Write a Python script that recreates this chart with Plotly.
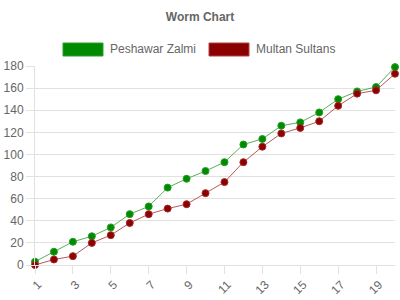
import plotly.graph_objects as go

overs = list(range(1, 21))
tick_labels = [str(v) for v in range(1, 21, 2)]
peshawar = [3, 12, 21, 26, 34, 46, 53, 70, 78, 85, 93, 109, 114, 126, 129, 138, 150, 157, 161, 179]
multan = [0, 5, 8, 20, 27, 38, 46, 51, 55, 65, 75, 93, 107, 119, 124, 130, 144, 155, 158, 173]
series_names = ["Peshawar Zalmi", "Multan Sultans"]

FONT = "Arial, Liberation Sans, Helvetica, sans-serif"
TXT = "#666666"
GRID = "#e1e1e1"
W, H = 400, 300

fig = go.Figure()
fig.add_trace(go.Scatter(
    x=overs, y=peshawar, mode="lines+markers", name=series_names[0],
    line=dict(color="rgba(60,160,60,0.85)", width=1),
    marker=dict(color="#008a00", size=7, line=dict(color="#22a022", width=1)),
    cliponaxis=False, showlegend=False))
fig.add_trace(go.Scatter(
    x=overs, y=multan, mode="lines+markers", name=series_names[1],
    line=dict(color="rgba(170,60,60,0.85)", width=1),
    marker=dict(color="#8b0000", size=7, line=dict(color="#a52a2a", width=1)),
    cliponaxis=False, showlegend=False))

plot_l, plot_r, plot_t, plot_b = 35, 395, 66, 265
def cx(x):
    return (x - plot_l) / (plot_r - plot_l)
def cy(y):
    return (plot_b - y) / (plot_b - plot_t)

legend = [(63, "#008a00", "#2aa02a", series_names[0]), (209, "#8b0000", "#b04040", series_names[1])]
shapes = []
annos = []
for x0, fill, border, label in legend:
    shapes.append(dict(type="rect", xref="paper", yref="paper",
                       x0=cx(x0), x1=cx(x0 + 40), y0=cy(56), y1=cy(43),
                       fillcolor=fill, line=dict(color=border, width=1)))
    annos.append(dict(xref="paper", yref="paper", x=cx(x0 + 45), y=cy(49.5),
                      text=label, showarrow=False, xanchor="left", yanchor="middle",
                      font=dict(family=FONT, size=12, color=TXT)))

fig.update_layout(
    width=W, height=H,
    margin=dict(l=plot_l, r=W - plot_r, t=plot_t, b=H - plot_b, autoexpand=False),
    paper_bgcolor="white", plot_bgcolor="white",
    title=dict(text="<b>Worm Chart</b>", x=0.5, xanchor="center", y=1 - 17 / H, yanchor="middle",
               xref="container", yref="container",
               font=dict(family=FONT, size=12, color=TXT)),
    font=dict(family=FONT, size=12, color=TXT),
    xaxis=dict(range=[1, 20], tickvals=list(range(1, 21, 2)), ticktext=tick_labels,
               tickangle=-45, ticks="outside", ticklen=8, tickcolor=GRID, automargin=False,
               ticklabelshift=3, ticklabelstandoff=-1,
               showgrid=False, showline=True, linecolor=GRID, zeroline=False,
               tickfont=dict(family=FONT, size=12, color=TXT)),
    yaxis=dict(range=[0, 180], dtick=20, ticks="outside", ticklen=8, tickcolor=GRID, automargin=False,
               showgrid=True, gridcolor=GRID, showline=True, linecolor=GRID, zeroline=False,
               tickfont=dict(family=FONT, size=12, color=TXT)),
    shapes=shapes, annotations=annos,
)

fig.write_html("out.html")
